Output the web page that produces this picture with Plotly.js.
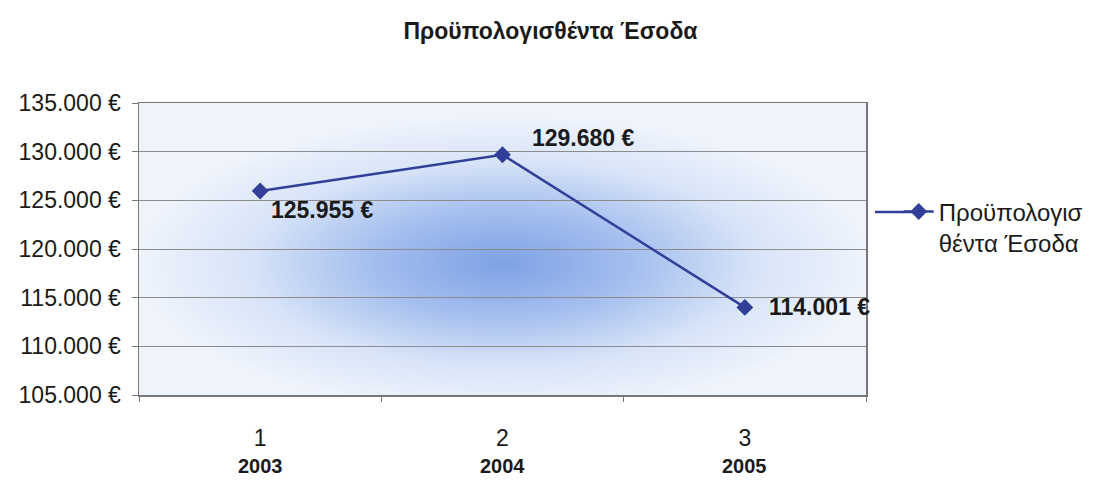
<!DOCTYPE html>
<html>
<head>
<meta charset="utf-8">
<script src="https://cdn.plot.ly/plotly-3.0.1.min.js"></script>
<style>html,body{margin:0;padding:0;background:#fff;}#chart{width:1101px;height:481px;}</style>
</head>
<body>
<div id="chart"></div>
<script>
// Data
const categories = ['1', '2', '3'];
const years = ['2003', '2004', '2005'];
const revenue = [125955, 129680, 114001];
const seriesName = 'Προϋπολογισ<br>θέντα Έσοδα';
const chartTitle = 'Προϋπολογισθέντα Έσοδα';

// label offsets (pixels) for the value labels
const labelShiftX = [9, 27, 22];
const labelShiftY = [-19, 17, 0];

const FONT = 'Liberation Sans, Arial, sans-serif';
const LINE_COLOR = '#313f98';

const gradSvg = '<svg xmlns="http://www.w3.org/2000/svg" width="727" height="292" preserveAspectRatio="none">' +
  '<defs><radialGradient id="g" cx="0.5" cy="0.55" r="0.5" fx="0.5" fy="0.55">' +
  '<stop offset="0" stop-color="#7ea2e6"/>' +
  '<stop offset="0.35" stop-color="#a3bdee"/>' +
  '<stop offset="0.7" stop-color="#d8e4f8"/>' +
  '<stop offset="1" stop-color="#eef3fc"/>' +
  '</radialGradient></defs>' +
  '<rect width="727" height="292" fill="#eef3fc"/>' +
  '<rect width="727" height="292" fill="url(#g)"/></svg>';
const gradUri = 'data:image/svg+xml;charset=utf-8,' + encodeURIComponent(gradSvg);

function fmt(v) {
  return String(v).replace(/\B(?=(\d{3})+(?!\d))/g, '.') + ' €';
}

const trace = {
  x: categories,
  y: revenue,
  type: 'scatter',
  mode: 'lines+markers',
  name: seriesName,
  line: {color: LINE_COLOR, width: 2.5},
  marker: {symbol: 'diamond', size: 13, color: LINE_COLOR},
  cliponaxis: false
};

const valueAnnotations = revenue.map((v, i) => ({
  x: i, y: v, xref: 'x', yref: 'y',
  xanchor: 'left', yanchor: 'middle',
  xshift: labelShiftX[i], yshift: labelShiftY[i],
  text: '<b>' + fmt(v) + '</b>',
  showarrow: false,
  font: {family: FONT, size: 23, color: '#1a1a1a'}
}));

const yearAnnotations = years.map((yr, i) => ({
  x: i, y: 0, xref: 'x', yref: 'paper',
  xanchor: 'center', yanchor: 'middle', yshift: -71,
  text: '<b>' + yr + '</b>',
  showarrow: false,
  font: {family: FONT, size: 20, color: '#1a1a1a'}
}));

const layout = {
  width: 1101, height: 481,
  margin: {l: 139, r: 235, t: 103, b: 86},
  paper_bgcolor: '#ffffff',
  plot_bgcolor: 'rgba(0,0,0,0)',
  separators: ',.',
  showlegend: true,
  title: {
    text: '<b>' + chartTitle + '</b>',
    x: 0.5, xanchor: 'center', y: 0.935, yanchor: 'middle',
    font: {family: FONT, size: 23, color: '#1a1a1a'}
  },
  xaxis: {
    type: 'category',
    range: [-0.5, 2.5],
    tickson: 'boundaries',
    ticks: 'outside', ticklen: 5, tickcolor: '#777',
    showgrid: false,
    showline: true, linecolor: '#777', linewidth: 1.5, mirror: true,
    tickfont: {family: FONT, size: 23, color: '#1a1a1a'},
    ticklabelstandoff: 22,
    fixedrange: true
  },
  yaxis: {
    range: [105000, 135000],
    tick0: 105000, dtick: 5000,
    tickformat: ',.0f', ticksuffix: ' €',
    ticks: 'outside', ticklen: 6, tickcolor: '#777',
    showgrid: true, gridcolor: '#8c8c8c', gridwidth: 1,
    showline: true, linecolor: '#777', linewidth: 1.5, mirror: true,
    zeroline: false,
    tickfont: {family: FONT, size: 23, color: '#1a1a1a'},
    ticklabelstandoff: 6,
    fixedrange: true
  },
  legend: {
    x: 1.045, xanchor: 'left', xref: 'paper',
    y: 0.574, yanchor: 'middle',
    valign: 'top',
    bgcolor: 'rgba(0,0,0,0)',
    font: {family: FONT, size: 24, color: '#1a1a1a'},
    itemwidth: 30
  },
  shapes: [{
    type: 'line', xref: 'paper', yref: 'paper',
    x0: (875 - 139) / 727, x1: (912 - 139) / 727,
    y0: (395 - 212) / 292, y1: (395 - 212) / 292,
    line: {color: LINE_COLOR, width: 2.5}
  }],
  images: [{
    source: gradUri, xref: 'paper', yref: 'paper',
    x: 0, y: 1, sizex: 1, sizey: 1, xanchor: 'left', yanchor: 'top',
    sizing: 'stretch', layer: 'below'
  }],
  annotations: valueAnnotations.concat(yearAnnotations)
};

Plotly.newPlot('chart', [trace], layout, {displayModeBar: false, staticPlot: true});
</script>
</body>
</html>
